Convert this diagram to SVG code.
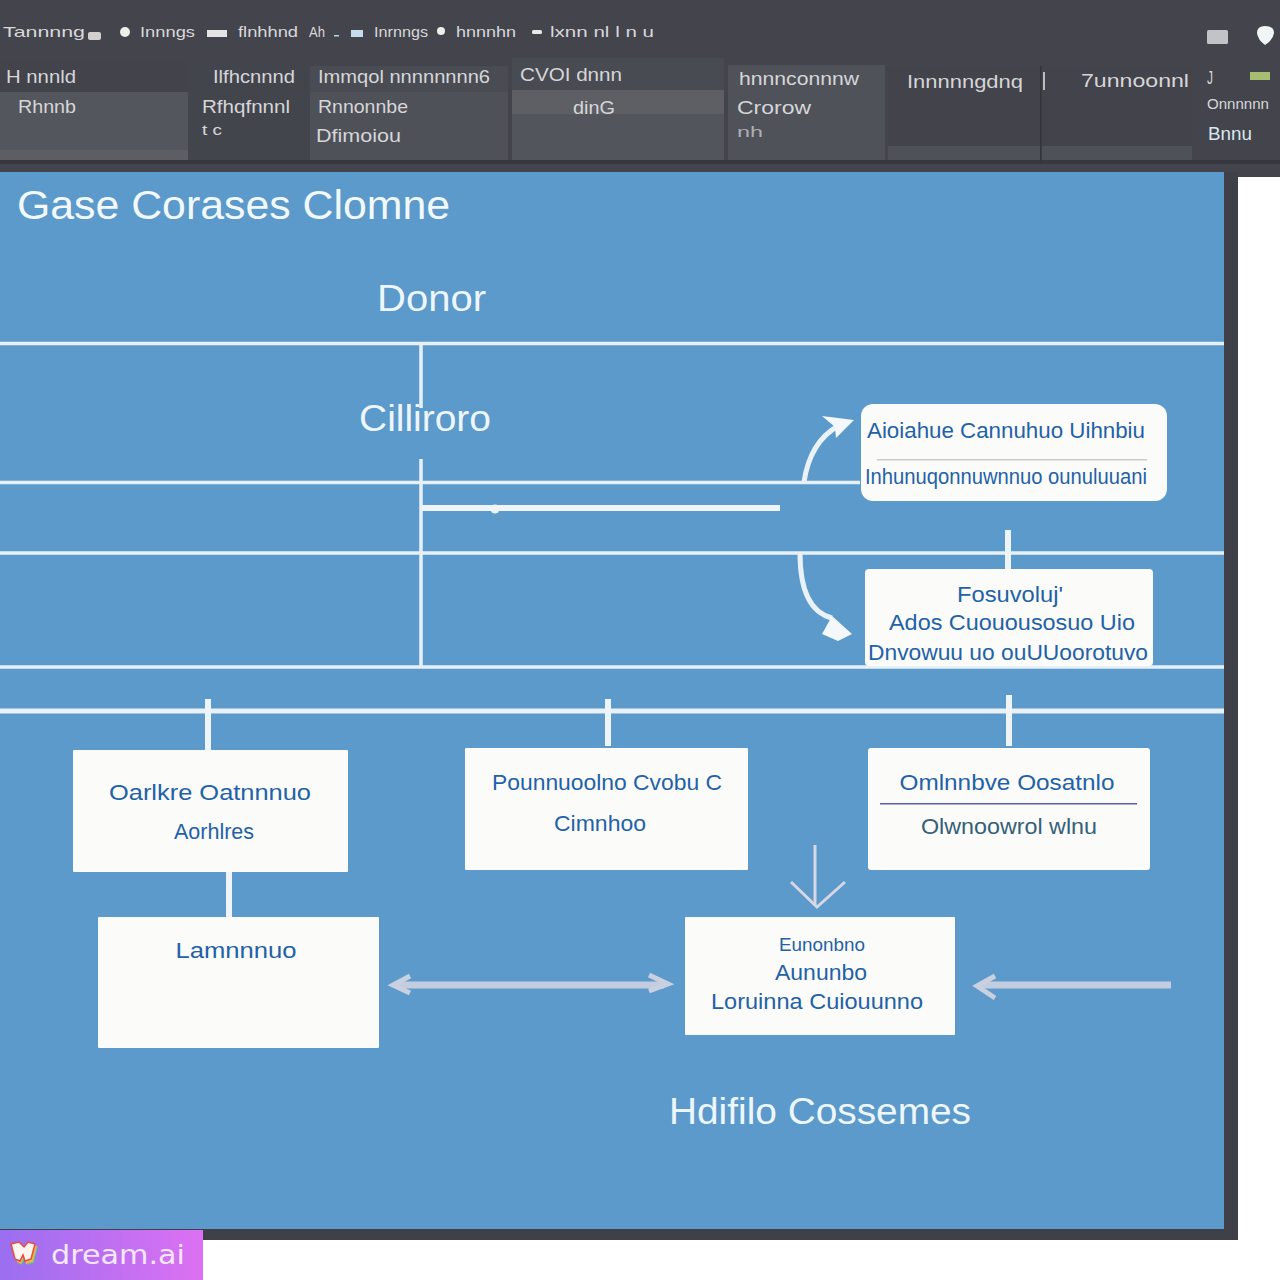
<svg xmlns="http://www.w3.org/2000/svg" width="1280" height="1280" viewBox="0 0 1280 1280">
<style>
text{font-family:"Liberation Sans",Arial,sans-serif}
.tb{fill:#d6d6d8;font-size:19px}
.tb2{fill:#d8d8da;font-size:15px}
.h{fill:#f2f8fc;font-size:40px}
.s{fill:#eef6fb;font-size:36px}
.n{fill:#1f62a8;font-size:22px;text-anchor:middle}
.box{fill:#fbfbf9}
.w{stroke:#e6f0f6;fill:none;stroke-width:3.500}
.w6{stroke:#eef4f8;fill:none;stroke-width:6}
.w5{stroke:#eaf2f7;fill:none;stroke-width:5}
.g{stroke:#c4cde0;fill:none;stroke-width:7}
.g2{stroke:#c9d0e0;fill:none;stroke-width:5}
.g3{stroke:#d8d6e2;fill:none;stroke-width:3}
</style>
<defs>
<linearGradient id="wm" x1="0" x2="1" y1="0" y2="0"><stop offset="0" stop-color="#9a6ff0"/><stop offset="1" stop-color="#dd70f2"/></linearGradient>
</defs>
<rect width="1280" height="1280" fill="#ffffff"/>
<rect id="bar" x="0" y="0" width="1280" height="172" fill="#43444c"/>
<rect x="1238" y="0" width="42" height="177" fill="#43444c"/>
<rect x="1224" y="172" width="14" height="1068" fill="#3f4048"/>
<rect x="0" y="1228" width="1238" height="12" fill="#3f4048"/>
<rect id="panel" x="0" y="172" width="1224" height="1057" fill="#5b9aca"/>

<g id="toolbar">
<rect x="0" y="60" width="188" height="100" fill="#42434b"/>
<rect x="0" y="92" width="188" height="60" fill="#54565d"/>
<rect x="0" y="150" width="188" height="10" fill="#5d5e64"/>
<rect x="190" y="60" width="118" height="100" fill="#43454d"/>
<rect x="310" y="66" width="198" height="94" fill="#4a4c54"/>
<rect x="310" y="92" width="198" height="68" fill="#4f5158"/>
<rect x="512" y="58" width="212" height="102" fill="#494b53"/>
<rect x="512" y="90" width="212" height="24" fill="#5d5f65"/>
<rect x="512" y="114" width="212" height="46" fill="#53555c"/>
<rect x="728" y="65" width="157" height="95" fill="#50525a"/>
<rect x="888" y="66" width="152" height="94" fill="#42434b"/>
<rect x="888" y="146" width="152" height="14" fill="#4f5159"/>
<rect x="1042" y="66" width="150" height="94" fill="#42434b"/>
<rect x="1042" y="146" width="150" height="14" fill="#4f5159"/>
<rect x="0" y="160" width="1280" height="4" fill="#37383f"/>
<rect x="1040" y="66" width="1.500" height="96" fill="#33343a"/>
<rect x="1043" y="72" width="2" height="18" fill="#bdbdc0"/>
<text class="tb2" lengthAdjust="spacingAndGlyphs" x="3" y="37" textLength="82">Tannnng</text>
<rect x="88" y="32" width="13" height="8" rx="2" fill="#d2d0cc"/>
<circle cx="125" cy="32" r="5" fill="#eeeeea"/>
<text class="tb2" lengthAdjust="spacingAndGlyphs" x="140" y="37" textLength="55">Innngs</text>
<rect x="207" y="30" width="20" height="7" fill="#e4e4e4"/>
<text class="tb2" lengthAdjust="spacingAndGlyphs" x="238" y="37" textLength="60">flnhhnd</text>
<text class="tb2" lengthAdjust="spacingAndGlyphs" x="309" y="37" textLength="16">Ah</text>
<rect x="334" y="35" width="5" height="1.500" fill="#b9d2e6"/>
<rect x="351" y="30" width="12" height="7" fill="#c6dcec"/>
<text class="tb2" lengthAdjust="spacingAndGlyphs" x="374" y="37" textLength="54">Inrnngs</text>
<circle cx="441" cy="31" r="4" fill="#eeeeea"/>
<text class="tb2" lengthAdjust="spacingAndGlyphs" x="456" y="37" textLength="60">hnnnhn</text>
<rect x="532" y="30" width="10" height="4" rx="1.500" fill="#e8e8e8"/>
<text class="tb2" lengthAdjust="spacingAndGlyphs" x="550" y="37" textLength="104">lxnn nl l n u</text>
<rect x="1207" y="30" width="21" height="14" rx="1.500" fill="#c2c3c7"/>
<path d="M1257 33Q1257 26 1265 26Q1274 26 1274 33Q1273 40 1265 45Q1258 40 1257 33Z" fill="#f0f6f6"/>

<text class="tb" lengthAdjust="spacingAndGlyphs" x="6" y="83" textLength="70">H nnnld</text>
<text class="tb" lengthAdjust="spacingAndGlyphs" x="18" y="113" textLength="58">Rhnnb</text>
<text class="tb" lengthAdjust="spacingAndGlyphs" x="213" y="83" textLength="82">Ilfhcnnnd</text>
<text class="tb" lengthAdjust="spacingAndGlyphs" x="202" y="113" textLength="88">Rfhqfnnnl</text>
<text class="tb2" lengthAdjust="spacingAndGlyphs" x="202" y="135" textLength="20">t c</text>
<text class="tb" lengthAdjust="spacingAndGlyphs" x="318" y="83" textLength="172">Immqol nnnnnnnn6</text>
<text class="tb" lengthAdjust="spacingAndGlyphs" x="318" y="113" textLength="90">Rnnonnbe</text>
<text class="tb" lengthAdjust="spacingAndGlyphs" x="316" y="142" textLength="85">Dfimoiou</text>
<text class="tb" lengthAdjust="spacingAndGlyphs" x="520" y="81" textLength="102">CVOI dnnn</text>
<text class="tb" lengthAdjust="spacingAndGlyphs" x="573" y="114" textLength="42">dinG</text>
<text class="tb" lengthAdjust="spacingAndGlyphs" x="739" y="85" textLength="120">hnnnconnnw</text>
<text class="tb" lengthAdjust="spacingAndGlyphs" x="737" y="114" textLength="74">Crorow</text>
<text class="tb2" lengthAdjust="spacingAndGlyphs" fill-opacity=".7" x="737" y="137" textLength="26">nh</text>
<text class="tb" lengthAdjust="spacingAndGlyphs" x="907" y="88" textLength="116">Innnnngdnq</text>
<text class="tb" lengthAdjust="spacingAndGlyphs" x="1081" y="87" textLength="108">7unnoonnl</text>
<text class="tb" lengthAdjust="spacingAndGlyphs" x="1207" y="84" textLength="6">J</text>
<rect x="1250" y="72" width="20" height="8" fill="#a6bd72"/>
<text class="tb2" lengthAdjust="spacingAndGlyphs" x="1207" y="109" textLength="62">Onnnnnn</text>
<text class="tb" lengthAdjust="spacingAndGlyphs" x="1208" y="140" style="fill:#d8e8f0" textLength="44">Bnnu</text>
</g>

<g id="titles">
<text class="h" lengthAdjust="spacingAndGlyphs" x="17" y="219" textLength="433">Gase Corases Clomne</text>
<text class="s" lengthAdjust="spacingAndGlyphs" x="377" y="311" textLength="109">Donor</text>
<text class="s" lengthAdjust="spacingAndGlyphs" x="359" y="431" textLength="132">Cilliroro</text>
<text class="s" lengthAdjust="spacingAndGlyphs" x="669" y="1124" textLength="302">Hdifilo Cossemes</text>
</g>

<g id="connectors">
<path class="w" d="M0 343.500H1224"/>
<path class="w" d="M0 482.500H860"/>
<path class="w" d="M0 553H1224"/>
<path class="w" d="M0 667H1224"/>
<path class="w5" d="M0 711H1224"/>
<path class="w" d="M421 343V408"/>
<path class="w" d="M421 459V667"/>
<path class="w6" d="M422 508H780"/>
<circle cx="495" cy="509" r="4.500" fill="#eef4f8"/>
<path class="w5" d="M804 482Q810 442 838 426"/>
<path d="M822 416L854 420L836 438L835 427Z" fill="#f4f8fa"/>
<path class="w5" d="M800 553Q800 610 832 618"/>
<path d="M822 634L832 616L852 634L838 641Z" fill="#f4f8fa"/>
<path class="w6" d="M1008 530V570"/>
<path class="w6" d="M208 699V750"/>
<path class="w6" d="M608 699V746"/>
<path class="w6" d="M1009 695V746"/>
<path class="w6" d="M229 871V917"/>
<path class="g" d="M396 985H664"/>
<path class="g2" d="M410 976L393 985L410 993"/>
<path class="g2" d="M649 975L668 984L649 991"/>
<path class="g" d="M980 985H1171"/>
<path class="g2" d="M995 976L977 986L995 998"/>
<path class="g3" d="M815 845V906"/>
<path class="g3" d="M791 882L817 907L845 882"/>
</g>

<g id="node-top-1">
<rect class="box" x="861" y="404" width="306" height="97" rx="12"/>
<rect x="877" y="459" width="270" height="1.500" fill="#c7ccd0"/>
<text class="n" lengthAdjust="spacingAndGlyphs" x="1006" y="438" textLength="278">Aioiahue Cannuhuo Uihnbiu</text>
<text class="n" lengthAdjust="spacingAndGlyphs" x="1006" y="484" textLength="282">Inhunuqonnuwnnuo ounuluuani</text>
</g>
<g id="node-top-2">
<rect class="box" x="865" y="569" width="288" height="97" rx="4"/>
<text class="n" lengthAdjust="spacingAndGlyphs" x="1010" y="602" textLength="106">Fosuvoluj'</text>
<text class="n" lengthAdjust="spacingAndGlyphs" x="1012" y="630" textLength="246">Ados Cuouousosuo Uio</text>
<text class="n" lengthAdjust="spacingAndGlyphs" x="1008" y="660" textLength="280">Dnvowuu uo ouUUoorotuvo</text>
</g>
<g id="node-mid-1">
<rect class="box" x="73" y="750" width="275" height="122" rx="1"/>
<text class="n" lengthAdjust="spacingAndGlyphs" x="210" y="800" textLength="202">Oarlkre Oatnnnuo</text>
<text class="n" lengthAdjust="spacingAndGlyphs" x="214" y="839" textLength="80">Aorhlres</text>
</g>
<g id="node-mid-2">
<rect class="box" x="465" y="748" width="283" height="122" rx="1"/>
<text class="n" lengthAdjust="spacingAndGlyphs" x="607" y="790" textLength="230">Pounnuoolno Cvobu C</text>
<text class="n" lengthAdjust="spacingAndGlyphs" x="600" y="831" textLength="92">Cimnhoo</text>
</g>
<g id="node-mid-3">
<rect class="box" x="868" y="748" width="282" height="122" rx="3"/>
<rect x="880" y="803" width="257" height="1.500" fill="#5c5fa8"/>
<text class="n" lengthAdjust="spacingAndGlyphs" x="1007" y="790" textLength="215">Omlnnbve Oosatnlo</text>
<text class="n" lengthAdjust="spacingAndGlyphs" x="1009" y="834" style="fill:#35607a" textLength="176">Olwnoowrol wlnu</text>
</g>
<g id="node-low-1">
<rect class="box" x="98" y="917" width="281" height="131" rx="1"/>
<text class="n" lengthAdjust="spacingAndGlyphs" x="236" y="958" textLength="121">Lamnnnuo</text>
</g>
<g id="node-low-2">
<rect class="box" x="685" y="917" width="270" height="118" rx="1"/>
<text class="n" lengthAdjust="spacingAndGlyphs" x="822" y="951" textLength="86" style="font-size:19px">Eunonbno</text>
<text class="n" lengthAdjust="spacingAndGlyphs" x="821" y="980" textLength="92">Aununbo</text>
<text class="n" lengthAdjust="spacingAndGlyphs" x="817" y="1009" textLength="212">Loruinna Cuiouunno</text>
</g>

<g id="watermark">
<rect x="0" y="1230" width="203" height="50" fill="url(#wm)"/>
<path d="M14 1247L22 1245L26 1250L30 1245L38 1247L34 1263L27 1265L25 1259L22 1265L18 1263Z" fill="#4cc2a0"/>
<path d="M13 1246L21 1244L25 1249L29 1244L37 1246L33 1262L26 1264L24 1258L21 1264L17 1262Z" fill="#f4b04a"/>
<path d="M11 1244L19 1242L24 1247L28 1242L35 1244L31 1259L25 1261L23 1255L20 1261L15 1259Z" fill="#fdf6f0" stroke="#e84a3c" stroke-width="1.500"/>
<text x="51" y="1264" fill="#f3e8fb" font-size="27" lengthAdjust="spacingAndGlyphs" textLength="134" style="font-family:'DejaVu Sans',sans-serif">dream.ai</text>
</g>
</svg>
